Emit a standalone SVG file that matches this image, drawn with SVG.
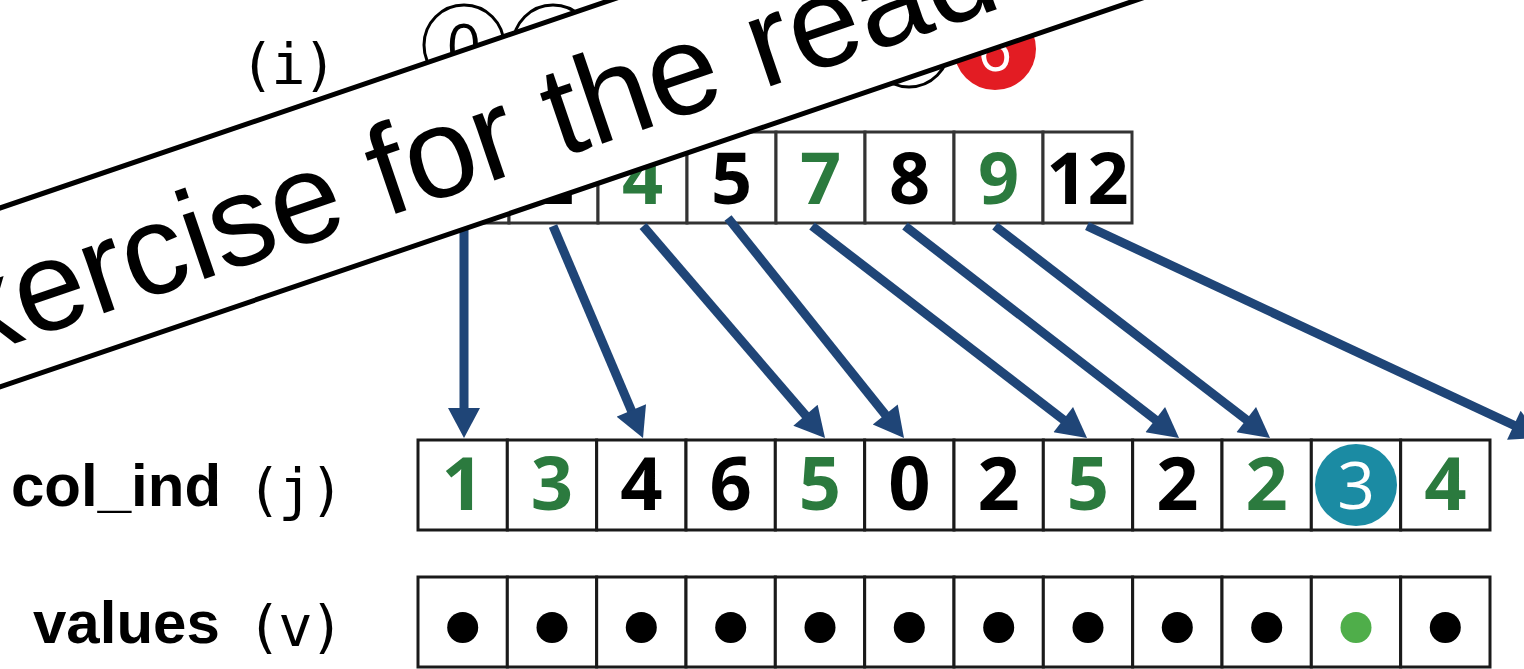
<svg xmlns="http://www.w3.org/2000/svg" width="1524" height="669" viewBox="0 0 1524 669">
<defs>
<style>
.cell{fill:#fff;stroke:#1a1a1a;stroke-width:3}
.rp{fill:#fff;stroke:#333;stroke-width:3}
.dig{font-family:"Open Sans","Noto Sans",sans-serif;font-weight:700;font-size:74px;text-anchor:middle}
.rdig{font-family:"Open Sans","Noto Sans",sans-serif;font-weight:700;font-size:72px;text-anchor:middle}
.g{fill:#2b7a3e}
.k{fill:#000}
.cdig{font-family:"Open Sans","Noto Sans",sans-serif;font-size:60px;text-anchor:middle}
.lbl{font-family:"Liberation Sans",Arial,sans-serif;font-weight:700;font-size:60px;fill:#000}
.mono{font-family:"DejaVu Sans Mono","Liberation Mono",monospace;font-size:57px;fill:#000;letter-spacing:-3px}
.arr{stroke:#1f4577;stroke-width:9;fill:none;marker-end:url(#ah)}
.dot{fill:#000}
.ban{font-family:"Liberation Sans",Arial,sans-serif;font-size:128px;fill:#000}
</style>
<marker id="ah" markerUnits="userSpaceOnUse" markerWidth="32" markerHeight="32" viewBox="0 0 30 32" refX="10" refY="16" orient="auto">
<path d="M0,0 L30,16 L0,32 z" fill="#1f4577"/>
</marker>
</defs>
<rect width="1524" height="669" fill="#fff"/>

<g id="label-i"><text class="mono" x="240" y="84">(i)</text></g>

<g id="row-circles">
<g id="row0"><circle cx="464" cy="45" r="40" fill="#fff" stroke="#000" stroke-width="3"/><text class="cdig" x="464" y="66.5" fill="#000">0</text></g>
<g id="row1"><circle cx="553" cy="45" r="40" fill="#fff" stroke="#000" stroke-width="3"/><text class="cdig" x="553" y="66.5" fill="#000">1</text></g>
<g id="row5"><circle cx="909" cy="47" r="40" fill="#fff" stroke="#000" stroke-width="3"/><text class="cdig" x="909" y="68.5" fill="#000">5</text></g>
<g id="row6"><circle cx="995" cy="49" r="41" fill="#e31c23"/><text class="cdig" x="995" y="70.5" fill="#fff">6</text></g>
</g>

<g id="row_ptr">
<rect class="rp" x="420" y="132" width="89" height="91"/>
<rect class="rp" x="509" y="132" width="89" height="91"/>
<rect class="rp" x="598" y="132" width="89" height="91"/>
<rect class="rp" x="687" y="132" width="89" height="91"/>
<rect class="rp" x="776" y="132" width="89" height="91"/>
<rect class="rp" x="865" y="132" width="89" height="91"/>
<rect class="rp" x="954" y="132" width="89" height="91"/>
<rect class="rp" x="1043" y="132" width="89" height="91"/>
<text class="rdig g" x="464.5" y="204">0</text>
<text class="rdig k" x="553.5" y="204">2</text>
<text class="rdig g" x="642.5" y="204">4</text>
<text class="rdig k" x="731.5" y="204">5</text>
<text class="rdig g" x="820.5" y="204">7</text>
<text class="rdig k" x="909.5" y="204">8</text>
<text class="rdig g" x="998.5" y="204">9</text>
<text class="rdig k" x="1087.5" y="204">12</text>
</g>

<g id="connectors">
<line class="arr" x1="464" y1="225" x2="464" y2="418"/>
<line class="arr" x1="553" y1="226" x2="635.2" y2="419.6"/>
<line class="arr" x1="643" y1="226" x2="812" y2="422.8"/>
<line class="arr" x1="728" y1="218" x2="891.5" y2="422.4"/>
<line class="arr" x1="812" y1="226" x2="1071.2" y2="425.8"/>
<line class="arr" x1="905" y1="226" x2="1163.2" y2="425.8"/>
<line class="arr" x1="995" y1="226" x2="1254.2" y2="425.8"/>
<line class="arr" x1="1087" y1="226" x2="1522.9" y2="429.5"/>
</g>

<g id="col_ind">
<text class="lbl" x="11" y="506">col_ind</text>
<text class="mono" x="247" y="509">(j)</text>
<rect class="cell" x="418" y="440" width="89.33" height="90"/>
<rect class="cell" x="507.33" y="440" width="89.33" height="90"/>
<rect class="cell" x="596.67" y="440" width="89.33" height="90"/>
<rect class="cell" x="686" y="440" width="89.33" height="90"/>
<rect class="cell" x="775.33" y="440" width="89.33" height="90"/>
<rect class="cell" x="864.67" y="440" width="89.33" height="90"/>
<rect class="cell" x="954" y="440" width="89.33" height="90"/>
<rect class="cell" x="1043.33" y="440" width="89.33" height="90"/>
<rect class="cell" x="1132.67" y="440" width="89.33" height="90"/>
<rect class="cell" x="1222" y="440" width="89.33" height="90"/>
<rect class="cell" x="1311.33" y="440" width="89.33" height="90"/>
<rect class="cell" x="1400.67" y="440" width="89.33" height="90"/>
<circle cx="1356" cy="485" r="41" fill="#1b8ba3"/>
<text class="dig g" x="462.7" y="510">1</text>
<text class="dig g" x="552" y="510">3</text>
<text class="dig k" x="641.3" y="510">4</text>
<text class="dig k" x="730.7" y="510">6</text>
<text class="dig g" x="820" y="510">5</text>
<text class="dig k" x="909.3" y="510">0</text>
<text class="dig k" x="998.7" y="510">2</text>
<text class="dig g" x="1088" y="510">5</text>
<text class="dig k" x="1177.3" y="510">2</text>
<text class="dig g" x="1266.7" y="510">2</text>
<text x="1356" y="508.5" style="font-family:'Open Sans','Noto Sans',sans-serif;font-size:66px;text-anchor:middle;fill:#fff">3</text>
<text class="dig g" x="1445.3" y="510">4</text>
</g>

<g id="values">
<text class="lbl" x="33" y="643">values</text>
<text class="mono" x="247" y="646">(v)</text>
<rect class="cell" x="418" y="577" width="89.33" height="90"/>
<rect class="cell" x="507.33" y="577" width="89.33" height="90"/>
<rect class="cell" x="596.67" y="577" width="89.33" height="90"/>
<rect class="cell" x="686" y="577" width="89.33" height="90"/>
<rect class="cell" x="775.33" y="577" width="89.33" height="90"/>
<rect class="cell" x="864.67" y="577" width="89.33" height="90"/>
<rect class="cell" x="954" y="577" width="89.33" height="90"/>
<rect class="cell" x="1043.33" y="577" width="89.33" height="90"/>
<rect class="cell" x="1132.67" y="577" width="89.33" height="90"/>
<rect class="cell" x="1222" y="577" width="89.33" height="90"/>
<rect class="cell" x="1311.33" y="577" width="89.33" height="90"/>
<rect class="cell" x="1400.67" y="577" width="89.33" height="90"/>
<circle class="dot" cx="462.7" cy="627.5" r="15.5"/>
<circle class="dot" cx="552" cy="627.5" r="15.5"/>
<circle class="dot" cx="641.3" cy="627.5" r="15.5"/>
<circle class="dot" cx="730.7" cy="627.5" r="15.5"/>
<circle class="dot" cx="820" cy="627.5" r="15.5"/>
<circle class="dot" cx="909.3" cy="627.5" r="15.5"/>
<circle class="dot" cx="998.7" cy="627.5" r="15.5"/>
<circle class="dot" cx="1088" cy="627.5" r="15.5"/>
<circle class="dot" cx="1177.3" cy="627.5" r="15.5"/>
<circle class="dot" cx="1266.7" cy="627.5" r="15.5"/>
<circle cx="1356" cy="627.5" r="15.5" fill="#4fae4a"/>
<circle class="dot" cx="1445.3" cy="627.5" r="15.5"/>
</g>

<g id="banner" transform="rotate(-18.8)">
<rect x="-1500" y="196.9" width="4000" height="169.4" fill="#fff" stroke="#000" stroke-width="5"/>
<text class="ban" x="-232" y="330">Exercise for the reader</text>
</g>
</svg>
